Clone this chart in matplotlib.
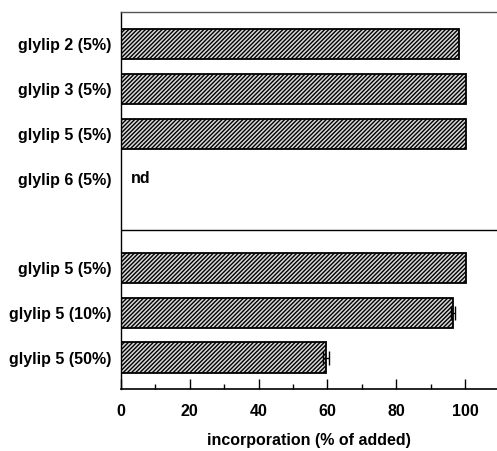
import numpy as np
import matplotlib.pyplot as plt
from matplotlib.ticker import MultipleLocator

plt.rcParams['font.family'] = ['Liberation Sans', 'DejaVu Sans']
plt.rcParams['hatch.linewidth'] = 1.0

# данные
labels = ["glylip 2 (5%)", "glylip 3 (5%)", "glylip 5 (5%)", "glylip 6 (5%)",
          "glylip 5 (5%)", "glylip 5 (10%)", "glylip 5 (50%)"]
values = [98.3, 100.2, 100.2, np.nan, 100.2, 96.5, 59.6]
errors = [0, 0, 0, 0, 0, 0.6, 0.9]
rows = [0, 1, 2, 3, 5, 6, 7]
nd_label = "nd"

fig = plt.figure(figsize=(4.97, 4.51), dpi=100)
ax = fig.add_axes([0.2435, 0.1375, 0.7565, 0.836])

for r, v, e in zip(rows, values, errors):
    if np.isnan(v):
        ax.text(3, r, nd_label, ha='left', va='center', fontsize=11.5, fontweight='bold')
        continue
    ax.barh(r, v, height=0.68, color='#d8d8d8', edgecolor='black', hatch='////////',
            linewidth=1.3)
    if e > 0:
        ax.errorbar(v, r, xerr=e, fmt='none', ecolor='black', elinewidth=1,
                    capsize=5, capthick=1)

ax.axhline(4.15, color='black', linewidth=1)

ax.set_xlim(0, 109.3)
ax.set_ylim(7.7, -0.72)
ax.set_yticks(rows)
ax.set_yticklabels(labels, fontsize=11.5, fontweight='bold')
ax.tick_params(axis='y', length=0, pad=7)

ax.xaxis.set_major_locator(MultipleLocator(20))
ax.xaxis.set_minor_locator(MultipleLocator(10))
ax.tick_params(axis='x', which='major', direction='in', length=7, width=1,
               labelsize=11.5, pad=11)
ax.tick_params(axis='x', which='minor', direction='in', length=3.5, width=1)
for lab in ax.get_xticklabels():
    lab.set_fontweight('bold')

ax.set_xlabel("incorporation (% of added)", fontsize=11.5, fontweight='bold', labelpad=10)

ax.spines['right'].set_visible(False)
ax.spines['top'].set_color('#555555')
ax.spines['top'].set_linewidth(1)
ax.spines['left'].set_linewidth(1)
ax.spines['bottom'].set_linewidth(1.2)

fig.savefig("out.png", dpi=100)
